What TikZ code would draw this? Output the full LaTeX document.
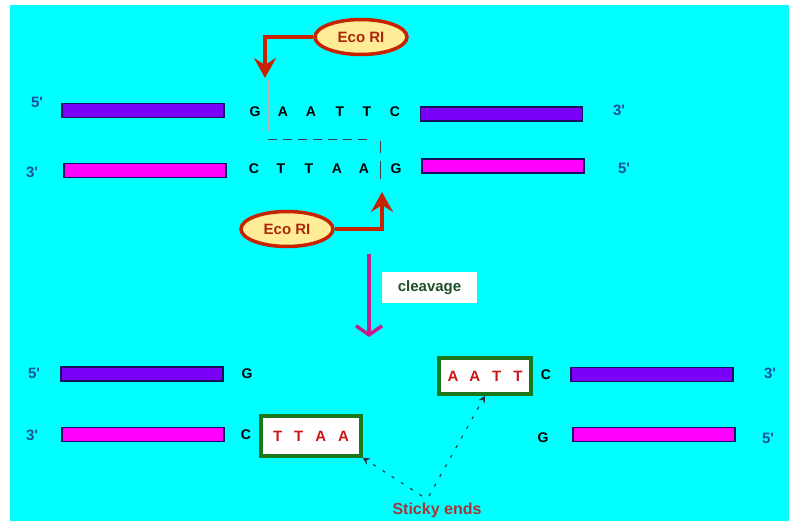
\documentclass[tikz,border=0pt]{standalone}
\usepackage{fontspec}
\setmainfont{Liberation Sans}
\usetikzlibrary{shapes.geometric,arrows.meta}
\definecolor{bgcyan}{RGB}{0,255,255}
\definecolor{strandA}{RGB}{122,0,250}
\definecolor{strandB}{RGB}{255,0,255}
\definecolor{navy}{RGB}{20,20,90}
\definecolor{endblue}{RGB}{25,80,160}
\definecolor{enzred}{RGB}{200,35,0}
\definecolor{enzfill}{RGB}{255,236,150}
\definecolor{enztext}{RGB}{170,40,10}
\definecolor{cleavemag}{RGB}{195,30,140}
\definecolor{boxgreen}{RGB}{25,120,25}
\definecolor{stickred}{RGB}{205,20,20}
\definecolor{labgreen}{RGB}{30,80,40}
\definecolor{stickytext}{RGB}{165,55,55}
\definecolor{dotgray}{RGB}{40,50,60}
\newcommand{\pr}{\textquotesingle}
\tikzset{
  topbar/.style={draw=navy, line width=1.5pt, fill=strandA, minimum width=162pt, minimum height=14pt, inner sep=0pt},
  botbar/.style={draw=navy, line width=1.5pt, fill=strandB, minimum width=162pt, minimum height=14pt, inner sep=0pt},
  endlab/.style={text=endblue, font=\bfseries\fontsize{15}{17}\selectfont, inner sep=0pt},
  base/.style={text=black, font=\bfseries\fontsize{14}{16}\selectfont, inner sep=0pt},
  enzyme/.style={ellipse, draw=enzred, line width=3.5pt, fill=enzfill, minimum width=92pt, minimum height=35pt, inner sep=0pt, text=enztext, font=\bfseries\fontsize{15}{17}\selectfont},
  enzarrow/.style={draw=enzred, line width=3.5pt, -{Stealth[length=20pt,width=22pt,inset=7pt]}},
  cutline/.style={draw=black!75, line width=0.9pt},
  stickbox/.style={draw=boxgreen, line width=3.5pt, fill=white, inner sep=0pt, text=stickred, font=\bfseries\fontsize{15}{17}\selectfont},
  dotarrow/.style={draw=dotgray, line width=1.1pt, dash pattern=on 3pt off 8pt, -{Stealth[length=7pt,width=7pt]}},
}
\begin{document}
\begin{tikzpicture}[x=1pt, y=-1pt]
  % canvas
  \useasboundingbox (0,0) rectangle (789,521);
  \fill[white] (0,0) rectangle (789,521);
  \fill[bgcyan] (10,5) rectangle (789,521);

  % ---------- intact duplex ----------
  \node[endlab] (e1) at (37,102) {5\pr};
  \node[topbar] (b1) at (143,110.5) {};
  \node[endlab] (e2) at (32,172) {3\pr};
  \node[botbar] (b2) at (145,170.5) {};
  \node[topbar] (b3) at (501.5,114) {};
  \node[endlab] (e3) at (619,110) {3\pr};
  \node[botbar] (b4) at (503,166) {};
  \node[endlab] (e4) at (624,168) {5\pr};

  \node[base] (t1) at (255,112) {G};
  \node[base] (t2) at (283,112) {A};
  \node[base] (t3) at (311,112) {A};
  \node[base] (t4) at (340,112) {T};
  \node[base] (t5) at (367,112) {T};
  \node[base] (t6) at (395,112) {C};

  \node[base] (u1) at (254,169) {C};
  \node[base] (u2) at (281,169) {T};
  \node[base] (u3) at (309,169) {T};
  \node[base] (u4) at (337,169) {A};
  \node[base] (u5) at (364,169) {A};
  \node[base] (u6) at (396,169) {G};

  % staggered cut between the strands
  \coordinate (c1) at (268,80);
  \coordinate (c2) at (268,131);
  \coordinate (c3) at (268,139);
  \coordinate (c4) at (372,139);
  \coordinate (c5) at (380,141);
  \coordinate (c6) at (380,153);
  \coordinate (c7) at (380,161);
  \coordinate (c8) at (380,179);
  \draw[cutline, draw=black!30] (c1) -- (c2);
  \draw[cutline, dash pattern=on 9pt off 6pt] (c3) -- (c4);
  \draw[cutline] (c5) -- (c6);
  \draw[cutline] (c7) -- (c8);

  % EcoRI enzymes
  \node[enzyme] (eco1) at (361,37) {Eco RI};
  \coordinate (tipT) at (265,78);
  \draw[enzarrow] (eco1.west) -| (tipT);
  \node[enzyme] (eco2) at (287,229) {Eco RI};
  \coordinate (tipB) at (382,192);
  \draw[enzarrow] (eco2.east) -| (tipB);

  % cleavage step
  \coordinate (cl1) at (369,254);
  \coordinate (cl2) at (369,337);
  \draw[draw=cleavemag, line width=3.5pt, -{Straight Barb[length=9pt,width=26pt]}] (cl1) -- (cl2);
  \node[fill=white, minimum width=95pt, minimum height=31pt, inner sep=0pt, text=labgreen,
        font=\bfseries\fontsize{15}{17}\selectfont] (cleave) at (429.5,287.5) {cleavage};

  % ---------- cut fragments ----------
  \node[endlab] (f1) at (34,373) {5\pr};
  \node[topbar] (g1) at (142,374) {};
  \node[base] (f2) at (247,374) {G};
  \node[endlab] (f3) at (32,435) {3\pr};
  \node[botbar] (g2) at (143,434.5) {};
  \node[base] (f4) at (246,435) {C};
  \node[stickbox, minimum width=100pt, minimum height=40pt] (ttaa) at (311,436) {T\hspace{12pt}T\hspace{12pt}A\hspace{12pt}A};

  \node[stickbox, minimum width=92pt, minimum height=36pt] (aatt) at (485,376) {A\hspace{11pt}A\hspace{12pt}T\hspace{12pt}T};
  \node[base] (f5) at (546,375) {C};
  \node[topbar] (g3) at (652,374.5) {};
  \node[endlab] (f6) at (770,373) {3\pr};
  \node[base] (f7) at (543,438) {G};
  \node[botbar] (g4) at (654,434.5) {};
  \node[endlab] (f8) at (768,438) {5\pr};

  % sticky-end callout
  \node[text=stickytext, font=\bfseries\fontsize{16}{18}\selectfont, inner sep=0pt] (sticky) at (437,510) {Sticky ends};
  \coordinate (s1) at (422,496);
  \coordinate (s2) at (429,496);
  \draw[dotarrow] (s1) -- (ttaa.south east);
  \draw[dotarrow] (s2) -- (aatt.south);
\end{tikzpicture}
\end{document}
